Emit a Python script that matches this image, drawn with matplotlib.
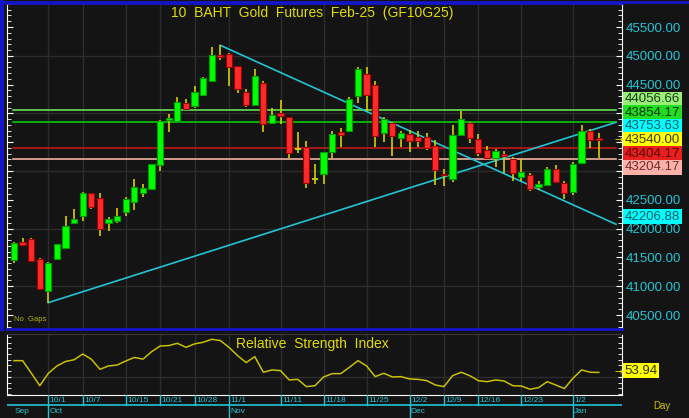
import matplotlib
matplotlib.use('Agg')
import matplotlib.pyplot as plt
import matplotlib.ticker as mticker
import numpy as np

# daily OHLC, 69 trading sessions (late Sep 2024 -> 7 Jan 2025)
opens = [41455, 41760, 41820, 41470, 40920, 41467, 41660, 42095, 42225, 42620,
         42535, 42100, 42130, 42280, 42465, 42625, 42695, 43110, 43880, 43875,
         44185, 44130, 44320, 44560, 45020, 45030, 44820, 44370, 44140, 44525,
         43830, 44005, 43940, 43387, 43420, 42856, 42945, 43330, 43675, 43695,
         44310, 44685, 44490, 43660, 43835, 43580, 43640, 43585, 43585, 43435,
         42955, 42860, 43630, 43840, 43555, 43365, 43230, 43295, 43205, 42895,
         42935, 42720, 42755, 43035, 42790, 42640, 43145, 43690, 43575]
highs = [41775, 41830, 41830, 41490, 41420, 41730, 42220, 42340, 42640, 42625,
         42610, 42210, 42350, 42550, 42855, 42775, 43130, 43880, 43990, 44285,
         44245, 44475, 44640, 45160, 45185, 45055, 44830, 44425, 44770, 44560,
         44090, 44225, 43945, 43670, 43520, 43120, 43330, 43700, 43740, 44290,
         44800, 44800, 44560, 43945, 43850, 43695, 43710, 43690, 43660, 43535,
         43030, 43795, 44035, 43845, 43640, 43430, 43375, 43345, 43240, 43215,
         42960, 42830, 43070, 43105, 42825, 43150, 43795, 43730, 43655]
lows = [41410, 41690, 41430, 40935, 40715, 41460, 41650, 42075, 42140, 42340,
        41880, 41960, 42090, 42220, 42325, 42555, 42680, 43005, 43680, 43850,
        44070, 44100, 44300, 44545, 44925, 44475, 44360, 44105, 44130, 43677,
        43810, 43820, 43230, 43305, 42710, 42780, 42770, 43230, 43410, 43690,
        44175, 44040, 43420, 43505, 43260, 43415, 43330, 43410, 43365, 42750,
        42740, 42815, 43605, 43490, 43260, 43200, 43075, 42965, 42830, 42820,
        42655, 42670, 42740, 42785, 42515, 42585, 43140, 43400, 43230]
closes = [41745, 41720, 41445, 40950, 41410, 41727, 42045, 42160, 42625, 42380,
          42000, 42170, 42220, 42510, 42715, 42700, 43120, 43870, 43920, 44205,
          44075, 44370, 44620, 45020, 44980, 44810, 44430, 44145, 44650, 43810,
          43970, 43960, 43310, 43387, 42785, 42856, 43325, 43640, 43625, 44250,
          44770, 44325, 43615, 43900, 43615, 43660, 43515, 43520, 43400, 43010,
          42925, 43625, 43905, 43580, 43305, 43225, 43340, 43265, 42965, 42975,
          42685, 42770, 43035, 42810, 42615, 43120, 43690, 43540, 43540]

rsi = [64.2, 64.2, 53.5, 42.4, 53.2, 59.6, 63.5, 65.0, 70.0, 65.4,
       56.7, 59.6, 60.4, 63.9, 67.0, 65.5, 72.0, 77.0, 77.3, 79.3,
       75.8, 78.8, 80.2, 82.8, 81.7, 75.8, 68.6, 62.5, 67.7, 54.1,
       56.1, 55.5, 47.4, 47.9, 41.6, 42.4, 50.0, 52.9, 52.9, 58.4,
       64.2, 59.6, 50.3, 53.2, 50.0, 50.3, 48.3, 47.9, 46.8, 43.0,
       41.6, 51.1, 54.1, 51.1, 46.8, 45.9, 47.4, 46.5, 42.4, 42.1,
       39.3, 40.7, 45.9, 43.0, 39.9, 48.9, 56.1, 54.1, 53.94]

date_pos = [4, 8, 13, 17, 21, 25, 31, 36, 41, 46, 50, 54, 59, 65]
date_labels = ['10/1', '10/7', '10/15', '10/21', '10/28', '11/1', '11/11',
               '11/18', '11/25', '12/2', '12/9', '12/16', '12/23', '1/2']
month_pos = [-0.1, 4, 25, 46, 65]
month_labels = ['Sep', 'Oct', 'Nov', 'Dec', 'Jan']

# trendlines: (start bar, start price, end bar, end price)
trend_up = (4, 40715, 70, 43845)
trend_down = (24, 45182, 70, 42076)

# horizontal levels and their colours
level_vals = [44056.66, 43854.17, 43404.17, 43204.17]
level_cols = ['#66dd55', '#00cc00', '#c01818', '#f0b0a0']

# right-hand value tags: value, box colour, text colour
tag_vals = [44056.66, 43854.17, 43753.63, 43540.00, 43404.17, 43204.17]
tag_bg = ['#99ee77', '#22dd22', '#00ffff', '#ffff00', '#e82020', '#ffb0a8']
tag_fg = ['#1c3a1c', '#003300', '#005a66', '#3a3a00', '#5a0000', '#6a3030']
last_price = 43540.00
low_tag = 42206.88
rsi_last = 53.94

BG = '#141414'
GRID = '#2c2c2c'
CYAN = '#22c4d4'
YEL = '#e0dc00'
FONT = 'Liberation Sans'

x = np.arange(len(opens))
xmin, xmax = -0.81, 70.7

fig = plt.figure(figsize=(6.89, 4.18), dpi=100, facecolor=BG)
W, H = 689.0, 418.0

def box(l, t, r, b):
    return [l / W, 1 - b / H, (r - l) / W, (b - t) / H]

ax = fig.add_axes(box(7, 3, 622, 329), facecolor=BG)
ax2 = fig.add_axes(box(7, 334, 622, 395), facecolor=BG)
ax3 = fig.add_axes(box(7, 395, 622, 418), facecolor=BG)

# stack the value tags so they don't overlap, anchored on the last price
gap = 236
order = np.argsort(tag_vals)
pos = list(tag_vals)
above = [i for i in order if tag_vals[i] > last_price]
below = [i for i in order[::-1] if tag_vals[i] < last_price]
prev = last_price
for i in above:
    pos[i] = max(tag_vals[i], prev + gap)
    prev = pos[i]
prev = last_price
for i in below:
    pos[i] = min(tag_vals[i], prev - gap)
    prev = pos[i]
covered = [(min(pos) - gap / 2, max(pos) + gap / 2)]

def price_fmt(v, _):
    # axis values sitting under the coloured tags are not shown
    for lo, hi in covered:
        if lo < v < hi:
            return ''
    return '%.2f' % v

# ---- main price panel ----
for p in date_pos:
    ax.axvline(p, color=GRID, lw=1, zorder=0)
for v in np.arange(41000, 45600, 1000):
    ax.axhline(v, color=GRID, lw=1, zorder=0)

for v, c in zip(level_vals, level_cols):
    ax.plot([-0.1, 70], [v, v], color=c, lw=1.2, zorder=1)

for t in (trend_up, trend_down):
    ax.plot([t[0], t[2]], [t[1], t[3]], color=CYAN, lw=1.2, zorder=2)

o = np.array(opens); c = np.array(closes)
up = c >= o
body_lo = np.minimum(o, c)
body_h = np.abs(c - o)
ax.vlines(x, lows, highs, color='#d4d000', lw=1.2, zorder=3)
ax.bar(x[up], body_h[up], bottom=body_lo[up], width=0.72, color='#00ff00',
       edgecolor='#009a00', lw=0.8, zorder=4)
ax.bar(x[~up], body_h[~up], bottom=body_lo[~up], width=0.72, color='#ff2a2a',
       edgecolor='#a00000', lw=0.8, zorder=4)
flat = body_h == 0
ax.hlines(o[flat], x[flat] - 0.36, x[flat] + 0.36, color='#e0dc00', lw=1.2, zorder=4)

ax.set_xlim(xmin, xmax)
ax.set_ylim(40257, 45917)
ax.yaxis.tick_right()
ax.yaxis.set_major_locator(mticker.MultipleLocator(500))
ax.yaxis.set_minor_locator(mticker.MultipleLocator(100))
ax.yaxis.set_major_formatter(mticker.FuncFormatter(price_fmt))
ax.tick_params(axis='y', which='both', direction='in', left=True, right=True,
               colors='white', labelcolor=CYAN, labelsize=9.5, pad=3)
ax.tick_params(axis='y', which='major', length=4)
ax.tick_params(axis='y', which='minor', length=3)
for lab in ax.get_yticklabels():
    lab.set_fontfamily(FONT)
ax.set_xticks([])
for s in ('left', 'right'):
    ax.spines[s].set_color('white')
for s in ('top', 'bottom'):
    ax.spines[s].set_color('#1414c8')
    ax.spines[s].set_linewidth(2)

ax.text(0.496, 0.968, '10  BAHT  Gold  Futures  Feb-25  (GF10G25)',
        transform=ax.transAxes, ha='center', va='center', color=YEL,
        fontsize=10, family=FONT)
ax.text(0.012, 0.018, 'No  Gaps', transform=ax.transAxes, ha='left', va='bottom',
        color='#b4b000', fontsize=5.5, family=FONT)
ax.text(70.3, last_price, '\u2192', color=YEL, fontsize=7, ha='center', va='center')

tr = ax.get_yaxis_transform()
for i, v in enumerate(tag_vals):
    ax.text(1.0045, pos[i], '%.2f' % v, transform=tr, ha='left', va='center',
            fontsize=9.5, family=FONT, color=tag_fg[i], clip_on=False, zorder=10,
            bbox=dict(boxstyle='square,pad=0.12', fc=tag_bg[i], ec='none'))
ax.text(1.0045, low_tag, '%.2f' % low_tag, transform=tr, ha='left', va='center',
        fontsize=9.5, family=FONT, color='#005a66', clip_on=False, zorder=10,
        bbox=dict(boxstyle='square,pad=0.12', fc='#00ffff', ec='none'))

# ---- RSI panel ----
for p in date_pos:
    ax2.axvline(p, color=GRID, lw=1, zorder=0)
ax2.axhline(50, color=GRID, lw=1, zorder=0)
ax2.plot(x, rsi, color='#c8c000', lw=1.1, zorder=3)
ax2.set_xlim(xmin, xmax)
ax2.set_ylim(34.3, 87.4)
ax2.yaxis.tick_right()
ax2.set_yticks([50])
ax2.set_yticklabels([''])
ax2.yaxis.set_minor_locator(mticker.MultipleLocator(5))
ax2.tick_params(axis='y', which='both', direction='in', left=True, right=True,
                colors='white', length=3)
ax2.set_xticks([])
for s in ('left', 'right', 'bottom'):
    ax2.spines[s].set_color('white')
ax2.spines['top'].set_color('#3a3a3a')
ax2.text(0.496, 0.84, 'Relative  Strength  Index', transform=ax2.transAxes,
         ha='center', va='center', color=YEL, fontsize=10, family=FONT)
ax2.text(70.3, rsi_last, '\u2192', color=YEL, fontsize=7, ha='center', va='center')
ax2.text(1.0045, rsi_last + 1.5, '%.2f' % rsi_last, transform=ax2.get_yaxis_transform(),
         ha='left', va='center', fontsize=9.5, family=FONT, color='#303000',
         clip_on=False, zorder=10,
         bbox=dict(boxstyle='square,pad=0.12', fc='#ffff00', ec='none'))

# ---- date strip ----
ax3.set_xlim(xmin, xmax)
ax3.set_ylim(0, 1)
ax3.axis('off')
ax3.axhline(0.56, color=CYAN, lw=1.2)
for p, lab in zip(date_pos, date_labels):
    ax3.plot([p, p], [0.56, 1], color=CYAN, lw=1)
    ax3.text(p + 0.15, 0.78, lab, color=CYAN, fontsize=6, family=FONT,
             ha='left', va='center')
for p, lab in zip(month_pos, month_labels):
    if p > 0:
        ax3.plot([p, p], [0, 0.56], color=CYAN, lw=1)
    ax3.text(p + 0.15, 0.28, lab, color=CYAN, fontsize=6, family=FONT,
             ha='left', va='center')
fig.text(662 / W, 1 - 406 / H, 'Day', color='#c8c000', fontsize=7, family=FONT,
         ha='center', va='center')

# blue frame
fig.add_artist(plt.Line2D([0, 1], [1 - 2 / H, 1 - 2 / H], color='#1414c8', lw=2))
fig.add_artist(plt.Line2D([1.5 / W, 1.5 / W], [1 - 329 / H, 1], color='#1414c8', lw=3))

fig.savefig('out.png', dpi=100, facecolor=BG)
